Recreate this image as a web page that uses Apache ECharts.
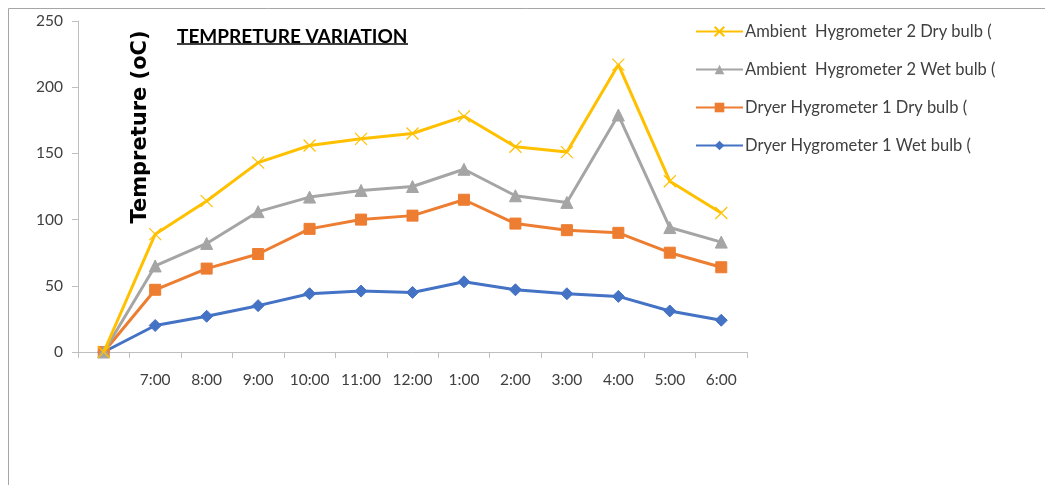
<!DOCTYPE html>
<html>
<head>
<meta charset="utf-8">
<script src="https://cdn.jsdelivr.net/npm/echarts@6/dist/echarts.min.js"></script>
<style>html,body{margin:0;padding:0;background:#fff}#c{width:1045px;height:485px}</style>
</head>
<body>
<div id="c"></div>
<script>
const categories = ['', '7:00', '8:00', '9:00', '10:00', '11:00', '12:00', '1:00', '2:00', '3:00', '4:00', '5:00', '6:00'];
const ambientDry = [0, 89, 114, 143, 156, 161, 165, 178, 155, 151, 217, 129, 105];
const ambientWet = [0, 65, 82, 106, 117, 122, 125, 138, 118, 113, 179, 94, 83];
const dryerDry = [0, 47, 63, 74, 93, 100, 103, 115, 97, 92, 90, 75, 64];
const dryerWet = [0, 20, 27, 35, 44, 46, 45, 53, 47, 44, 42, 31, 24];
const yTicks = [0, 50, 100, 150, 200, 250];

const seriesNames = [
  'Ambient  Hygrometer 2 Dry bulb (',
  'Ambient  Hygrometer 2 Wet bulb (',
  'Dryer Hygrometer 1 Dry bulb (',
  'Dryer Hygrometer 1 Wet bulb ('
];
const FONT = 'Lato, "Open Sans", sans-serif';
const crossPath = 'path://M0,0 L10,10 M10,0 L0,10';

function mk(name, data, color, symbol, size, extra) {
  return Object.assign({
    name: name, type: 'line', data: data, symbol: symbol, symbolSize: size,
    lineStyle: { color: color, width: 3 },
    itemStyle: { color: color, borderColor: color },
    showSymbol: true
  }, extra || {});
}

const chart = echarts.init(document.getElementById('c'));
chart.setOption({
  animation: false,
  backgroundColor: '#fff',
  title: {
    text: 'TEMPRETURE VARIATION',
    left: 172, top: 22,
    textStyle: { fontFamily: FONT, fontWeight: 'bold', fontSize: 19, color: '#000' }
  },
  legend: {
    orient: 'vertical', left: 690, top: 18, itemGap: 21,
    itemWidth: 47, itemHeight: 12,
    data: seriesNames,
    textStyle: { fontFamily: FONT, fontSize: 16.5, color: '#404040', padding: [0, 0, 0, -3] }
  },
  grid: { left: 78, right: 298, top: 21, bottom: 133, containLabel: false },
  xAxis: {
    type: 'category', data: categories, boundaryGap: true,
    axisLine: { lineStyle: { color: '#bfbfbf', width: 1 } },
    axisTick: { show: true, alignWithLabel: false, length: 6, lineStyle: { color: '#bfbfbf' } },
    axisLabel: { fontFamily: FONT, fontSize: 15.5, color: '#404040', margin: 20, interval: 0 }
  },
  yAxis: {
    type: 'value', min: yTicks[0], max: yTicks[yTicks.length - 1], interval: 50,
    axisLine: { show: true, lineStyle: { color: '#bfbfbf', width: 1 } },
    axisTick: { show: true, length: 6, lineStyle: { color: '#bfbfbf' } },
    splitLine: { show: false },
    axisLabel: { fontFamily: FONT, fontSize: 15.5, color: '#404040', margin: 15 }
  },
  graphic: [
    { type: 'line', shape: { x1: 8.5, y1: 8.5, x2: 1045, y2: 8.5 }, style: { stroke: '#a6a6a6', lineWidth: 1 } },
    { type: 'line', shape: { x1: 8.5, y1: 8.5, x2: 8.5, y2: 485 }, style: { stroke: '#a6a6a6', lineWidth: 1 } },
    { type: 'line', shape: { x1: 177, y1: 44, x2: 408, y2: 44 }, style: { stroke: '#000', lineWidth: 1.5 } },
    { type: 'text', x: 141, y: 127, rotation: Math.PI / 2,
      style: { text: 'Tempreture (oC)', fontFamily: '"DejaVu Sans", sans-serif', fontWeight: 'bold', fontSize: 21, fill: '#000', textAlign: 'center', textVerticalAlign: 'middle' } }
  ],
  series: [
    mk(seriesNames[3], dryerWet, '#4472C4', 'diamond', 12, { z: 2 }),
    mk(seriesNames[2], dryerDry, '#ED7D31', 'rect', 11, { z: 3 }),
    mk(seriesNames[1], ambientWet, '#A5A5A5', 'triangle', 12, { z: 4 }),
    mk(seriesNames[0], ambientDry, '#FFC000', crossPath, 12, {
      z: 5,
      itemStyle: { color: 'none', borderColor: '#FFC000', borderWidth: 1.2 }
    })
  ]
});
</script>
</body>
</html>
